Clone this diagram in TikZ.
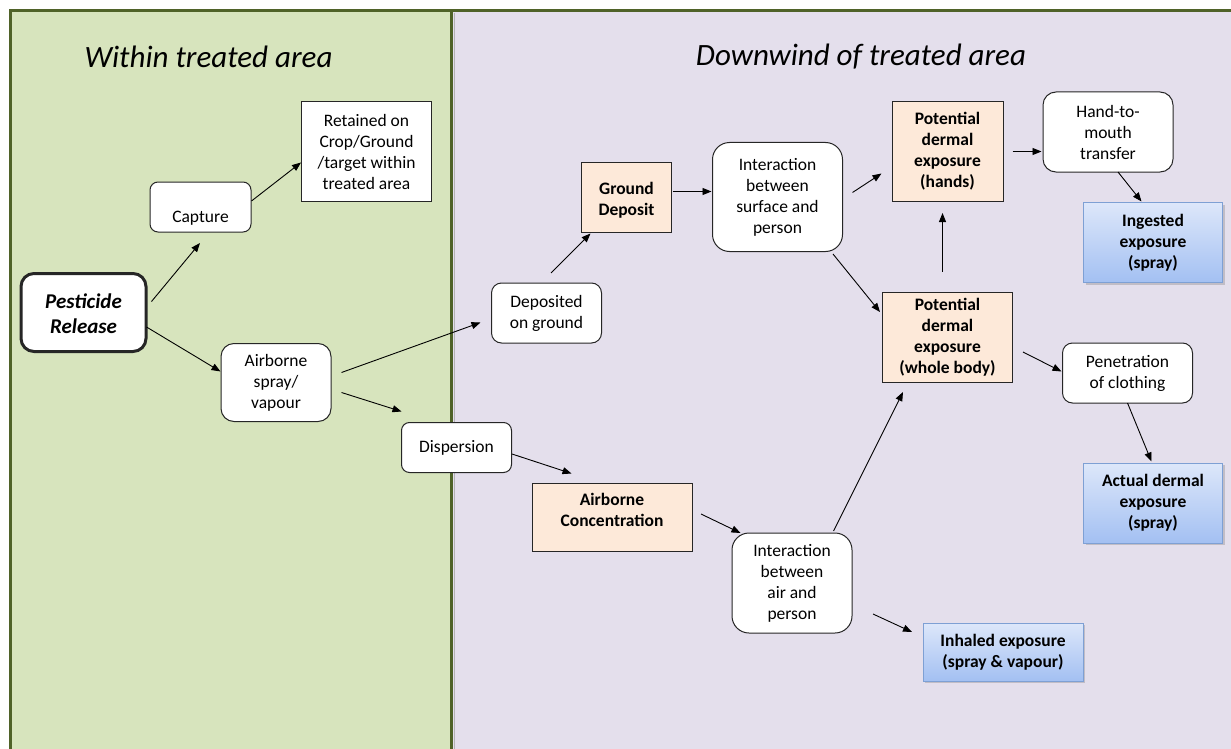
\documentclass[tikz,border=0pt]{standalone}
\usepackage{fontspec}
\setmainfont{Carlito}
\usetikzlibrary{arrows.meta,shadows}
\definecolor{gfill}{HTML}{D7E4BD}
\definecolor{gline}{HTML}{4F6228}
\definecolor{lav}{HTML}{E4DFEC}
\definecolor{peach}{HTML}{FDE9D9}
\definecolor{btop}{HTML}{DDE7FA}
\definecolor{bbot}{HTML}{A3C0F2}
\definecolor{bline}{HTML}{7EA0D4}
\definecolor{bord}{HTML}{262626}
\newcommand{\lift}[2]{\raisebox{#1}[\height][\depth]{\begin{tabular}{@{}c@{}}#2\end{tabular}}}
\begin{document}
\begin{tikzpicture}[x=1pt,y=-1pt,
  base/.style={inner sep=0pt, align=center, font=\fontsize{17.5}{21}\selectfont, line width=1pt},
  wbox/.style={base, draw=bord, fill=white, rounded corners=#1},
  wbox/.default=10pt,
  sbox/.style={base, draw=bord, fill=white},
  pbox/.style={base, draw=bord, fill=peach, font=\fontsize{17.5}{21}\selectfont\bfseries},
  bbox/.style={base, draw=bline, top color=btop, bottom color=bbot, font=\fontsize{17.5}{21}\selectfont\bfseries,
     drop shadow={opacity=0.35,shadow xshift=2pt,shadow yshift=-2pt}},
  arr/.style={-{Triangle[length=9pt,width=7pt]}, line width=0.9pt, black},
  title/.style={font=\fontsize{31}{36}\selectfont\itshape}
]
\useasboundingbox (0,0) rectangle (1231,749);
% panels
\fill[gfill] (10,11) rectangle (451.5,749);
\fill[lav] (451.5,11) rectangle (1231,749);
\draw[gray!60, line width=0.8pt] (454,13) -- (454,749);
\draw[gline, line width=3pt] (10,749) -- (10,11) -- (1231,11);
\draw[gline, line width=3pt] (451.5,11) -- (451.5,749);
% titles
\node[title] (t1) at (208.5,57) {Within treated area};
\node[title] (t2) at (861,57) {Downwind of treated area};
% nodes
\node[wbox=13pt, line width=3pt, minimum width=125, minimum height=78,
      font=\fontsize{21}{25}\selectfont\bfseries\itshape] (pest) at (83.5,312.5) {\lift{-3pt}{Pesticide\\Release}};
\node[wbox=8pt, minimum width=101, text height=40pt, text depth=10pt, anchor=base] (cap) at (200.5,222) {Capture};
\node[sbox, minimum width=130, minimum height=100] (ret) at (366.5,151.5) {Retained on\\Crop/Ground\\/target within\\treated area};
\node[wbox=13pt, minimum width=110, minimum height=78] (air) at (276,382.5) {Airborne\\spray/\\vapour};
\node[wbox=10pt, minimum width=110, minimum height=60] (dep) at (546.5,313) {Deposited\\on ground};
\node[wbox=8pt, minimum width=110, minimum height=50] (disp) at (456.5,447.5) {Dispersion};
\node[pbox, minimum width=90, minimum height=70] (gd) at (626.5,197) {\lift{-4pt}{Ground\\Deposit}};
\node[wbox=17pt, minimum width=130, minimum height=109] (isp) at (777.5,197) {Interaction\\between\\surface and\\person};
\node[pbox, minimum width=111, minimum height=100] (pdh) at (947.5,151.5) {Potential\\dermal\\exposure\\(hands)};
\node[wbox=13pt, minimum width=130, minimum height=80] (htm) at (1108,132) {Hand-to-\\mouth\\transfer};
\node[bbox, minimum width=139, minimum height=80] (ing) at (1153,242.5) {Ingested\\exposure\\(spray)};
\node[pbox, minimum width=130, minimum height=90] (pdw) at (947.5,337.5) {Potential\\dermal\\exposure\\(whole body)};
\node[wbox=10pt, minimum width=130, minimum height=60] (pen) at (1127.5,373) {Penetration\\of clothing};
\node[bbox, minimum width=139, minimum height=80] (act) at (1153,503) {Actual dermal\\exposure\\(spray)};
\node[pbox, minimum width=160, minimum height=68] (ac) at (612,517.5) {\lift{6pt}{Airborne\\Concentration}};
\node[wbox=17pt, minimum width=120, minimum height=100] (iap) at (792,583) {Interaction\\between\\air and\\person};
\node[bbox, minimum width=160, minimum height=58] (inh) at (1003,652) {Inhaled exposure\\(spray \& vapour)};
% arrows
\draw[arr] ([shift={(68,-11)}]pest.center) -- ([shift={(-0.5,36)}]cap.center);
\draw[arr] ([shift={(51,-6)}]cap.center) -- ([shift={(-65.5,11)}]ret.center);
\draw[arr] ([shift={(63,14.5)}]pest.center) -- ([shift={(-55.5,-11)}]air.center);
\draw[arr] ([shift={(65.5,-10)}]air.center) -- ([shift={(-66,9.5)}]dep.center);
\draw[arr] ([shift={(65.5,10)}]air.center) -- ([shift={(-55,-36)}]disp.center);
\draw[arr] ([shift={(55.5,6.5)}]disp.center) -- ([shift={(-40.5,-44)}]ac.center);
\draw[arr] ([shift={(4.5,-40)}]dep.center) -- ([shift={(-36,36.5)}]gd.center);
\draw[arr] ([shift={(46,-5.5)}]gd.center) -- ([shift={(-66,-5.5)}]isp.center);
\draw[arr] ([shift={(75,-4.5)}]isp.center) -- ([shift={(-66,22)}]pdh.center);
\draw[arr] ([shift={(55.5,57)}]isp.center) -- ([shift={(-67.5,-25.5)}]pdw.center);
\draw[arr] ([shift={(-5,-66)}]pdw.center) -- ([shift={(-5,61.5)}]pdh.center);
\draw[arr] ([shift={(65,0)}]pdh.center) -- ([shift={(-66.5,19.5)}]htm.center);
\draw[arr] ([shift={(10,40)}]htm.center) -- ([shift={(-11.5,-41)}]ing.center);
\draw[arr] ([shift={(75.5,14.5)}]pdw.center) -- ([shift={(-66,-1.5)}]pen.center);
\draw[arr] ([shift={(0,30)}]pen.center) -- ([shift={(-1.5,-41.5)}]act.center);
\draw[arr] ([shift={(89,-3.5)}]ac.center) -- ([shift={(-51.5,-50)}]iap.center);
\draw[arr] ([shift={(41.5,-52)}]iap.center) -- ([shift={(-44.5,54.5)}]pdw.center);
\draw[arr] ([shift={(81,31)}]iap.center) -- ([shift={(-91,-20)}]inh.center);
\end{tikzpicture}
\end{document}
